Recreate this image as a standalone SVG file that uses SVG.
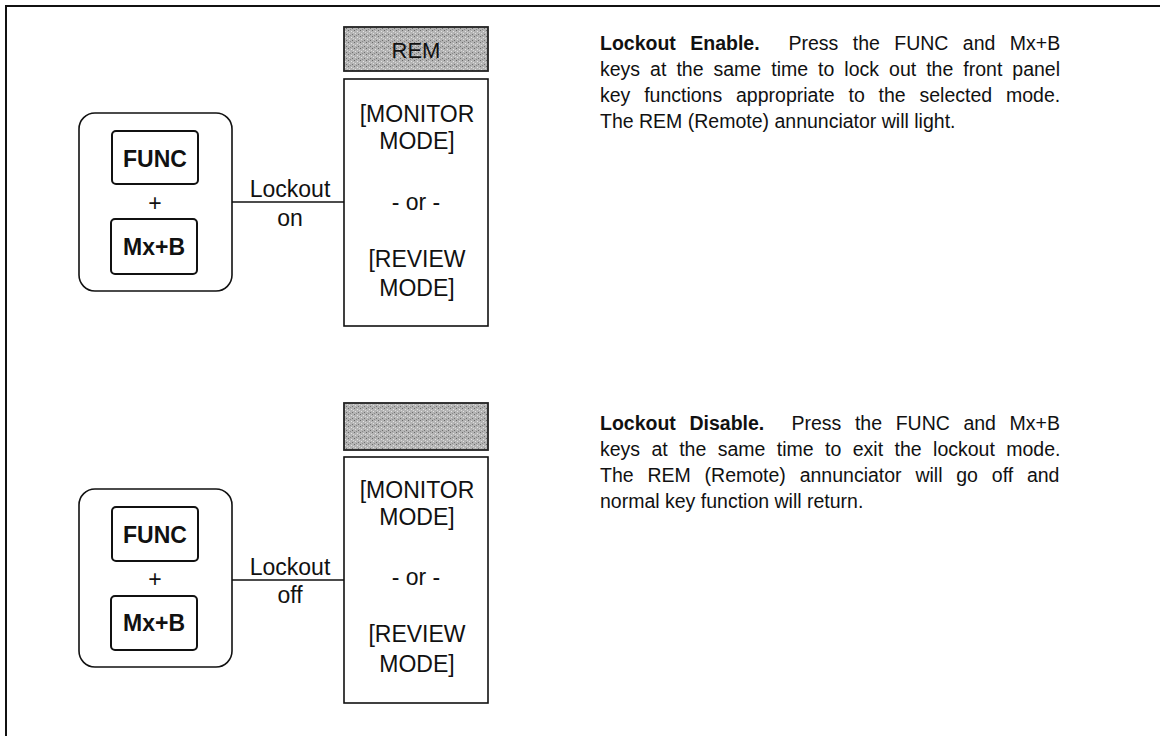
<svg xmlns="http://www.w3.org/2000/svg" width="1160" height="736" viewBox="0 0 1160 736">
<style>
.t{font-family:"Liberation Sans",Arial,sans-serif;fill:#111}
.d{font-size:23px;text-anchor:middle}
.k{font-size:23px;font-weight:bold;text-anchor:middle}
.p{font-size:19.5px;white-space:pre}
.b{font-weight:bold}
.frame{fill:none;stroke:#111;stroke-width:2}
.box{fill:#fff;stroke:#111;stroke-width:1.6}
.key{fill:#fff;stroke:#111;stroke-width:2}
.shade{fill:url(#stipple);stroke:#222;stroke-width:1.8}
.conn{stroke:#111;stroke-width:1.5;fill:none}
</style>
<defs>
<pattern id="stipple" width="6" height="6" patternUnits="userSpaceOnUse">
<rect width="6" height="6" fill="#b4b4b4"/>
<rect x="0" y="0" width="1" height="1" fill="#6a6a6a"/>
<rect x="3" y="1" width="1" height="1" fill="#e4e4e4"/>
<rect x="1" y="3" width="1" height="1" fill="#e0e0e0"/>
<rect x="4" y="4" width="1" height="1" fill="#707070"/>
<rect x="2" y="5" width="1" height="1" fill="#8a8a8a"/>
<rect x="5" y="2" width="1" height="1" fill="#d8d8d8"/>
</pattern>
</defs>
<rect width="1160" height="736" fill="#fff"/>
<path class="frame" d="M6,736 V6 H1160"/>

<g id="keys-on">
<rect x="79" y="113" width="153" height="178" rx="16" class="box"/>
<rect x="112" y="131" width="86" height="53" rx="4" class="key"/>
<text class="t k" x="155" y="167">FUNC</text>
<text class="t d" x="155" y="211">+</text>
<rect x="111" y="219" width="86" height="55" rx="4" class="key"/>
<text class="t k" x="154" y="255">Mx+B</text>
</g>
<g id="rem-on">
<rect x="344" y="27" width="144" height="44" class="shade"/>
<text class="t d" x="416" y="58" style="font-size:22px">REM</text>
</g>
<g id="display-on">
<rect x="344" y="79" width="144" height="247" class="box"/>
<text class="t d" x="417" y="122">[MONITOR</text>
<text class="t d" x="417" y="149">MODE]</text>
<text class="t d" x="416" y="210">- or -</text>
<text class="t d" x="417" y="267">[REVIEW</text>
<text class="t d" x="417" y="296">MODE]</text>
</g>

<g id="keys-off">
<rect x="79" y="489" width="153" height="178" rx="16" class="box"/>
<rect x="112" y="507" width="86" height="54" rx="4" class="key"/>
<text class="t k" x="155" y="543">FUNC</text>
<text class="t d" x="155" y="587">+</text>
<rect x="111" y="596" width="86" height="54" rx="4" class="key"/>
<text class="t k" x="154" y="631">Mx+B</text>
</g>
<g id="rem-off">
<rect x="344" y="403" width="144" height="47" class="shade"/>
</g>
<g id="display-off">
<rect x="344" y="457" width="144" height="246" class="box"/>
<text class="t d" x="417" y="498">[MONITOR</text>
<text class="t d" x="417" y="525">MODE]</text>
<text class="t d" x="416" y="585">- or -</text>
<text class="t d" x="417" y="642">[REVIEW</text>
<text class="t d" x="417" y="672">MODE]</text>
</g>

<g id="connectors">
<line class="conn" x1="232" y1="202" x2="344" y2="202"/>
<text class="t d" x="290" y="197">Lockout</text>
<text class="t d" x="290" y="226">on</text>
<line class="conn" x1="232" y1="580" x2="344" y2="580"/>
<text class="t d" x="290" y="575">Lockout</text>
<text class="t d" x="290" y="603">off</text>
</g>

<g id="text-enable">
<text class="t p" x="600" y="50" word-spacing="9"><tspan class="b">Lockout Enable.</tspan>  Press the FUNC and Mx+B</text>
<text class="t p" x="600" y="76" word-spacing="4.6">keys at the same time to lock out the front panel</text>
<text class="t p" x="600" y="102" word-spacing="8.4">key functions appropriate to the selected mode.</text>
<text class="t p" x="600" y="128">The REM (Remote) annunciator will light.</text>
</g>
<g id="text-disable">
<text class="t p" x="600" y="430" word-spacing="8.2"><tspan class="b">Lockout Disable.</tspan>  Press the FUNC and Mx+B</text>
<text class="t p" x="600" y="456" word-spacing="6">keys at the same time to exit the lockout mode.</text>
<text class="t p" x="600" y="482" word-spacing="8.4">The REM (Remote) annunciator will go off and</text>
<text class="t p" x="600" y="508">normal key function will return.</text>
</g>
</svg>
